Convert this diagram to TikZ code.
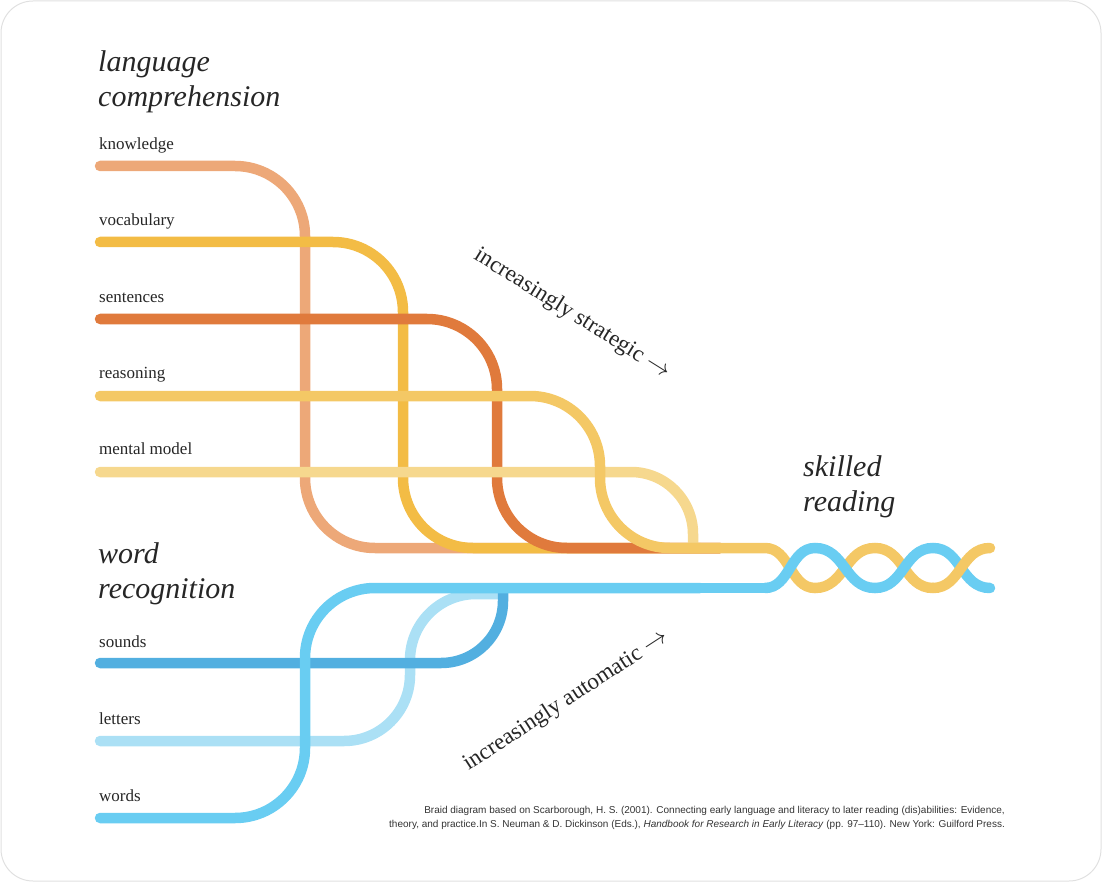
\documentclass[tikz,border=0pt]{standalone}
\usepackage{fontspec}
\setmainfont{Liberation Serif}
\setsansfont{Liberation Sans}
\begin{document}
\begin{tikzpicture}[x=1pt,y=-1pt,
  strand/.style={line width=10.5pt,line cap=round},
  lab/.style={anchor=base west,inner sep=0pt,font=\fontsize{17}{19}\selectfont,text=black!85},
  ttl/.style={anchor=base west,inner sep=0pt,align=left,font=\fontsize{30}{35}\selectfont\itshape,text=black!85},
  diag/.style={inner sep=0pt,font=\fontsize{23}{26}\selectfont,text=black!85}]
\definecolor{cK}{HTML}{EDA878}
\definecolor{cV}{HTML}{F3BC45}
\definecolor{cS}{HTML}{E07A3C}
\definecolor{cR}{HTML}{F4C865}
\definecolor{cM}{HTML}{F6D88E}
\definecolor{cSo}{HTML}{52AFE0}
\definecolor{cL}{HTML}{ABE0F5}
\definecolor{cW}{HTML}{69CDF2}
\useasboundingbox (0,0) rectangle (1102,882);
\draw[black!12,line width=1pt,rounded corners=32] (1,1) rectangle (1101,881);
% language strands
\draw[strand,cK,rounded corners=70] (100,166)--(305,166)--(305,548)--(720,548);
\draw[strand,cV,rounded corners=70] (100,242)--(403,242)--(403,548)--(720,548);
\draw[strand,cS,rounded corners=70] (100,319)--(497,319)--(497,548)--(720,548);
\draw[strand,cM,rounded corners=62] (100,472)--(693,472)--(693,546);
\draw[strand,cR,rounded corners=70] (100,396)--(600,396)--(600,548)--(700,548);
% word strands
\draw[strand,cL,rounded corners=66] (100,741)--(410,741)--(410,594)--(500,594);
\draw[strand,cSo,rounded corners=62] (100,663)--(503,663)--(503,590);
\draw[strand,cW,rounded corners=70] (100,818)--(305,818)--(305,588)--(700,588);
% braid
\coordinate (y0) at (690,548);
\draw[strand,cW,line cap=butt] (690,588)--(765,588);
\draw[strand,cR] (y0)--(765,548) .. controls (790,548) and (790,588) .. (815,588)
  .. controls (845,588) and (845,548) .. (875,548)
  .. controls (904,548) and (904,588) .. (933,588);
\draw[strand,cW] (765,588) .. controls (790,588) and (790,548) .. (815,548)
  .. controls (845,548) and (845,588) .. (875,588)
  .. controls (904,588) and (904,548) .. (933,548)
  .. controls (961,548) and (961,588) .. (990,588);
\draw[strand,cR] (933,588) .. controls (961,588) and (961,548) .. (990,548);
% texts
\node[ttl] (t1) at (98,107) {language\\comprehension};
\node[ttl] (t2) at (98,598) {word\\recognition};
\node[ttl] (t3) at (803,511) {skilled\\reading};
\node[lab] (k) at (99,150) {knowledge};
\node[lab] (v) at (99,226) {vocabulary};
\node[lab] (s) at (99,302) {sentences};
\node[lab] (r) at (99,378) {reasoning};
\node[lab] (m) at (99,454) {mental model};
\node[lab] (so) at (99,647) {sounds};
\node[lab] (le) at (99,724) {letters};
\node[lab] (w) at (99,801) {words};
\node[diag,rotate=-32] (d1) at (572,314) {increasingly strategic $\rightarrow$};
\node[diag,rotate=33] (d2) at (566,701) {increasingly automatic $\rightarrow$};
\node[anchor=north east,align=right,inner sep=0pt,font=\sffamily\fontsize{10}{14}\selectfont,text=black!80] (c) at (1005,806)
 {Braid diagram based on Scarborough, H. S. (2001). Connecting early language and literacy to later reading (dis)abilities: Evidence,\\
 theory, and practice.In S. Neuman \& D. Dickinson (Eds.), \textit{Handbook for Research in Early Literacy} (pp. 97--110). New York: Guilford Press.};
\end{tikzpicture}
\end{document}
